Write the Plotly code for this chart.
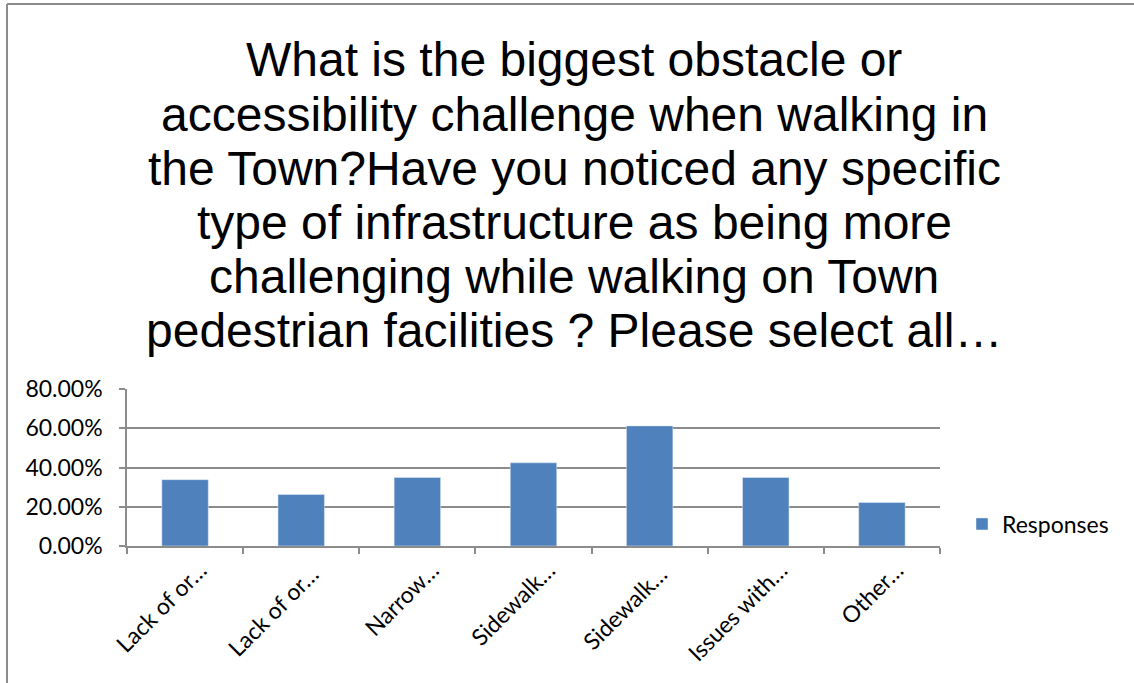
import plotly.graph_objects as go

# Survey answer options (truncated as shown on the axis) and response shares
categories = ["Lack of or…", "Lack of or… ", "Narrow…", "Sidewalk…", "Sidewalk… ", "Issues with…", "Other…"]
responses = [0.338, 0.262, 0.349, 0.424, 0.612, 0.349, 0.222]
series_name = "Responses"

title_lines = [
    "What is the biggest obstacle or",
    "accessibility challenge when walking in",
    "the Town?Have you noticed any specific",
    "type of infrastructure as being more",
    "challenging while walking on Town",
    "pedestrian facilities ? Please select all…",
]

W, H = 1134, 683
M_L, M_R, M_T, M_B = 127, 194, 389, 137
PW = W - M_L - M_R
PH = H - M_T - M_B


def px_x(x):
    return (x - M_L) / PW


def px_y(y):
    return (H - M_B - y) / PH


fig = go.Figure()
fig.add_trace(go.Bar(
    x=categories,
    y=responses,
    name=series_name,
    marker=dict(color="#4F81BD"),
    showlegend=True,
))

title_font = dict(family="Liberation Sans, Arial, sans-serif", size=48, color="#000000")
line_centers = [60, 114, 168, 222, 276, 330]
annotations = []
for text, yc in zip(title_lines, line_centers):
    annotations.append(dict(
        text=text, xref="paper", yref="paper",
        x=px_x(574), y=px_y(yc), xanchor="center", yanchor="middle",
        showarrow=False, font=title_font,
    ))

grid = "#8C8C8C"
axis_font = dict(family="Lato, Calibri, sans-serif", size=23, color="#000000")

fig.update_layout(
    width=W, height=H,
    margin=dict(l=M_L, r=M_R, t=M_T, b=M_B, autoexpand=False),
    paper_bgcolor="white", plot_bgcolor="white",
    bargap=0.6,
    annotations=annotations,
    legend=dict(x=px_x(962), y=px_y(524), xanchor="left", yanchor="middle",
                font=dict(family="Lato, Calibri, sans-serif", size=23, color="#000000"),
                bgcolor="rgba(0,0,0,0)"),
    shapes=[
        dict(type="line", xref="paper", yref="paper", x0=px_x(7), x1=px_x(7),
             y0=px_y(4), y1=px_y(700), line=dict(color="#8C8C8C", width=2)),
        dict(type="line", xref="paper", yref="paper", x0=px_x(7), x1=px_x(1150),
             y0=px_y(4), y1=px_y(4), line=dict(color="#8C8C8C", width=2)),
    ],
    xaxis=dict(
        type="category", tickangle=-45, tickfont=axis_font,
        showline=True, linecolor=grid, linewidth=1.5,
        ticks="outside", tickson="boundaries", ticklen=6, tickcolor=grid, tickwidth=1.5,
        ticklabelshift=15,
        showgrid=False,
    ),
    yaxis=dict(
        range=[0, 0.8], dtick=0.2, tickformat=".2%", tickfont=axis_font,
        showgrid=True, gridcolor=grid, gridwidth=1.5,
        showline=True, linecolor=grid, linewidth=1.5,
        ticks="outside", ticklen=6, tickcolor=grid, tickwidth=1.5,
        ticklabelstandoff=12,
        zeroline=False,
    ),
)

fig.write_html("out.html")
